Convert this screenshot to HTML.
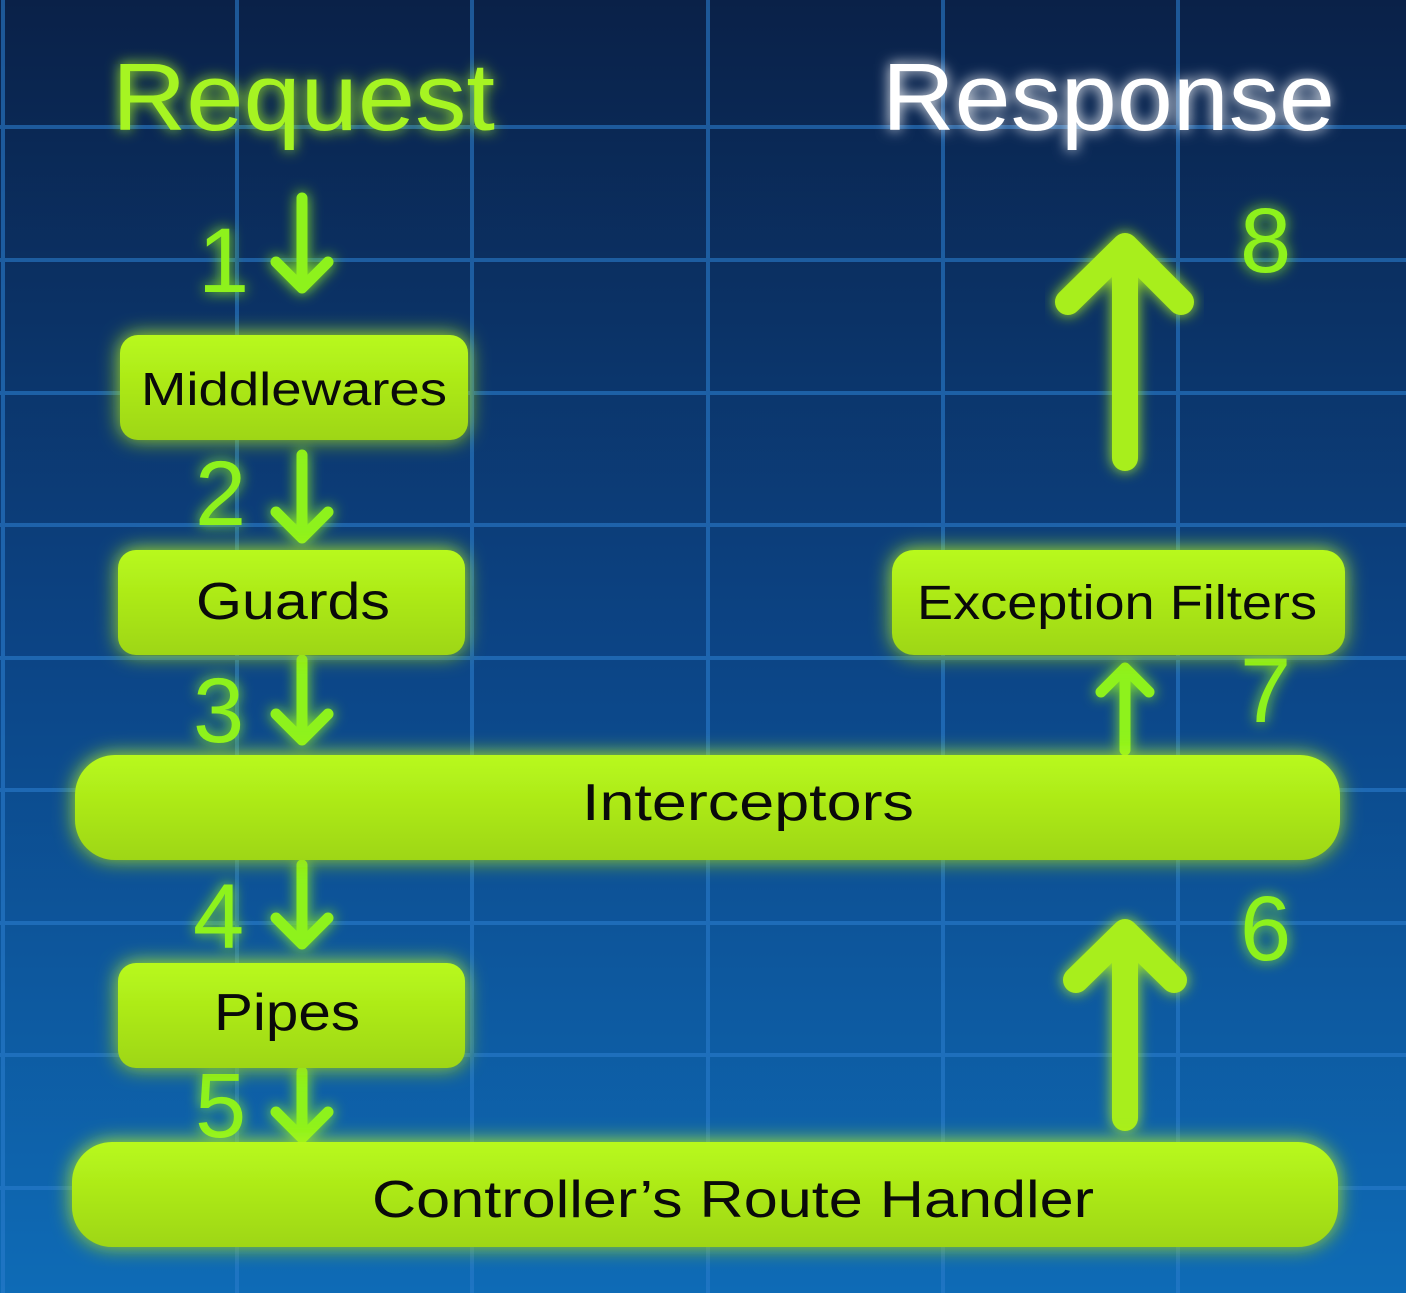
<!DOCTYPE html>
<html><head><meta charset="utf-8"><style>
html,body{margin:0;padding:0;width:1406px;height:1293px;overflow:hidden;background:#0b2a58}
svg{display:block}
text{font-family:"Liberation Sans",sans-serif}
</style></head><body>
<svg width="1406" height="1293" viewBox="0 0 1406 1293" xmlns="http://www.w3.org/2000/svg">
<defs>
<linearGradient id="bg" x1="0" y1="0" x2="0" y2="1">
<stop offset="0" stop-color="#0a2148"/><stop offset="0.5" stop-color="#0c4485"/><stop offset="1" stop-color="#0e6bb6"/>
</linearGradient>
<linearGradient id="box" x1="0" y1="0" x2="0" y2="1">
<stop offset="0" stop-color="#b8f91c"/><stop offset="1" stop-color="#9ed614"/>
</linearGradient>
<filter id="glow" x="-20%" y="-40%" width="140%" height="180%">
<feGaussianBlur stdDeviation="10" result="b"/>
<feMerge><feMergeNode in="b"/><feMergeNode in="SourceGraphic"/></feMerge>
</filter>
<filter id="glowS" x="-20%" y="-40%" width="140%" height="180%">
<feGaussianBlur stdDeviation="7" result="b"/>
<feMerge><feMergeNode in="b"/><feMergeNode in="SourceGraphic"/></feMerge>
</filter>
</defs>
<rect width="1406" height="1293" fill="url(#bg)"/>
<g stroke="#2a7ccc" stroke-width="4" opacity="0.6">
<line x1="3" y1="0" x2="3" y2="1293"/><line x1="237" y1="0" x2="237" y2="1293"/><line x1="472" y1="0" x2="472" y2="1293"/>
<line x1="708" y1="0" x2="708" y2="1293"/><line x1="943" y1="0" x2="943" y2="1293"/><line x1="1178" y1="0" x2="1178" y2="1293"/>
<line x1="0" y1="127" x2="1406" y2="127"/><line x1="0" y1="260" x2="1406" y2="260"/><line x1="0" y1="393" x2="1406" y2="393"/>
<line x1="0" y1="525" x2="1406" y2="525"/><line x1="0" y1="658" x2="1406" y2="658"/><line x1="0" y1="790" x2="1406" y2="790"/>
<line x1="0" y1="923" x2="1406" y2="923"/><line x1="0" y1="1055" x2="1406" y2="1055"/><line x1="0" y1="1188" x2="1406" y2="1188"/>
</g>

<g filter="url(#glowS)">
<text x="112" y="130" font-size="96" fill="#a6f421" textLength="383" lengthAdjust="spacingAndGlyphs">Request</text>
<text x="882" y="130" font-size="96" fill="#ffffff" textLength="453" lengthAdjust="spacingAndGlyphs">Response</text>
</g>

<g fill="#8ef21c" font-size="92" filter="url(#glowS)">
<text x="198" y="292">1</text>
<text x="195" y="525">2</text>
<text x="193" y="742">3</text>
<text x="193" y="948">4</text>
<text x="195" y="1137">5</text>
<text x="1240" y="272">8</text>
<text x="1240" y="722">7</text>
<text x="1240" y="960">6</text>
</g>

<g stroke="#8ef21c" stroke-width="11" stroke-linecap="round" stroke-linejoin="round" fill="none" filter="url(#glowS)">
<path d="M302 198V286M276 262L302 288L328 262"/>
<path d="M302 455V536M276 512L302 538L328 512"/>
<path d="M302 660V738M276 714L302 740L328 714"/>
<path d="M302 865V942M276 918L302 944L328 918"/>
<path d="M302 1072V1136M276 1112L302 1138L328 1112"/>
<path d="M1125 750V668M1101 692L1125 668L1149 692"/>
</g>
<g stroke="#a8ee1c" stroke-width="26" stroke-linecap="round" stroke-linejoin="round" fill="none" filter="url(#glowS)">
<path d="M1125 458V248M1068 302L1125 246L1181 302"/>
<path d="M1125 1118V935M1076 980L1125 932L1174 980"/>
</g>

<g fill="url(#box)" filter="url(#glow)">
<rect x="120" y="335" width="348" height="105" rx="18"/>
<rect x="118" y="550" width="347" height="105" rx="18"/>
<rect x="892" y="550" width="453" height="105" rx="22"/>
<rect x="75" y="755" width="1265" height="105" rx="40"/>
<rect x="118" y="963" width="347" height="105" rx="18"/>
<rect x="72" y="1142" width="1266" height="105" rx="40"/>
</g>

<g fill="#0a0a0a" text-anchor="middle">
<text x="294" y="405" font-size="46" textLength="306" lengthAdjust="spacingAndGlyphs">Middlewares</text>
<text x="293" y="619" font-size="52" textLength="194" lengthAdjust="spacingAndGlyphs">Guards</text>
<text x="1117" y="619" font-size="48" textLength="400" lengthAdjust="spacingAndGlyphs">Exception Filters</text>
<text x="748" y="820" font-size="52" textLength="332" lengthAdjust="spacingAndGlyphs">Interceptors</text>
<text x="287" y="1030" font-size="52" textLength="146" lengthAdjust="spacingAndGlyphs">Pipes</text>
<text x="733" y="1217" font-size="52" textLength="722" lengthAdjust="spacingAndGlyphs">Controller’s Route Handler</text>
</g>
</svg>
</body></html>
